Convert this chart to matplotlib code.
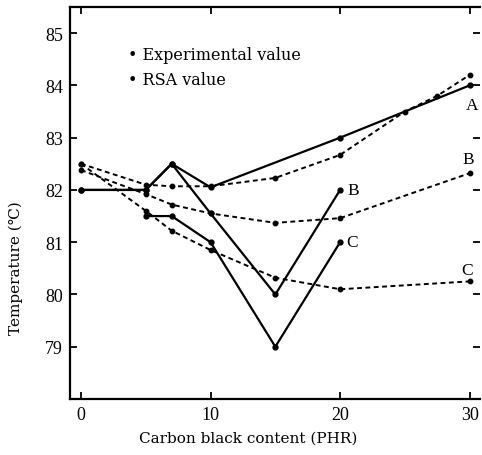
import matplotlib.pyplot as plt

# carbon black content (PHR)
exp_a_x = [0, 5, 7, 10, 20, 30]
exp_a_y = [82.0, 82.0, 82.5, 82.05, 83.0, 84.0]
exp_b_x = [0, 5, 7, 10, 15, 20]
exp_b_y = [82.0, 82.0, 82.5, 81.55, 80.0, 82.0]
exp_c_x = [5, 7, 10, 15, 20]
exp_c_y = [81.5, 81.5, 81.0, 79.0, 81.0]

rsa_a_x = [0, 5, 7, 10, 15, 20, 25, 27.5, 30]
rsa_a_y = [82.5, 82.1, 82.07, 82.07, 82.23, 82.67, 83.5, 83.8, 84.2]
rsa_b_x = [0, 5, 7, 10, 15, 20, 30]
rsa_b_y = [82.38, 81.92, 81.72, 81.55, 81.37, 81.46, 82.32]
rsa_c_x = [0, 5, 7, 10, 15, 20, 30]
rsa_c_y = [82.5, 81.6, 81.22, 80.85, 80.32, 80.1, 80.25]

plt.rcParams['font.family'] = ['Liberation Serif', 'DejaVu Serif']
wide = ['DejaVu Serif']

fig = plt.figure(figsize=(4.82, 4.56), dpi=100)
ax = fig.add_axes([70/482, 56/456, 410/482, 392/456])

for x, y in [(exp_a_x, exp_a_y), (exp_b_x, exp_b_y), (exp_c_x, exp_c_y)]:
    ax.plot(x, y, color='black', lw=1.6, marker='o', ms=3.5)
for x, y in [(rsa_a_x, rsa_a_y), (rsa_b_x, rsa_b_y), (rsa_c_x, rsa_c_y)]:
    ax.plot(x, y, color='black', lw=1.4, ls=(0, (2.5, 1.8)), marker='o', ms=3.2)

ax.text(3.6, 84.6, '• Experimental value', fontsize=11.5, va='center', family=wide)
ax.text(3.6, 84.12, '• RSA value', fontsize=11.5, va='center', family=wide)

ax.text(30.15, 83.63, 'A', fontsize=12.5, ha='center', va='center')
ax.text(29.9, 82.6, 'B', fontsize=12.5, ha='center', va='center')
ax.text(29.8, 80.46, 'C', fontsize=12.5, ha='center', va='center')
ax.text(20.6, 82.0, 'B', fontsize=12.5, ha='left', va='center')
ax.text(20.5, 81.0, 'C', fontsize=12.5, ha='left', va='center')

ax.set_xlim(-0.85, 30.8)
ax.set_ylim(78.0, 85.5)
ax.set_xticks([0, 10, 20, 30])
ax.set_yticks([79, 80, 81, 82, 83, 84, 85])
ax.tick_params(direction='in', length=5, width=1.3, labelsize=13,
               top=True, right=True, pad=5)
ax.spines['right'].set_visible(False)
for s in ['left', 'top', 'bottom']:
    ax.spines[s].set_linewidth(1.6)

ax.set_xlabel('Carbon black content (PHR)', fontsize=11, family=wide)
ax.set_ylabel('Temperature (℃)', fontsize=11, family=wide)
ax.xaxis.set_label_coords(0.435, -0.08)
ax.yaxis.set_label_coords(-0.115, 0.337)

fig.savefig('out.png', dpi=100)
